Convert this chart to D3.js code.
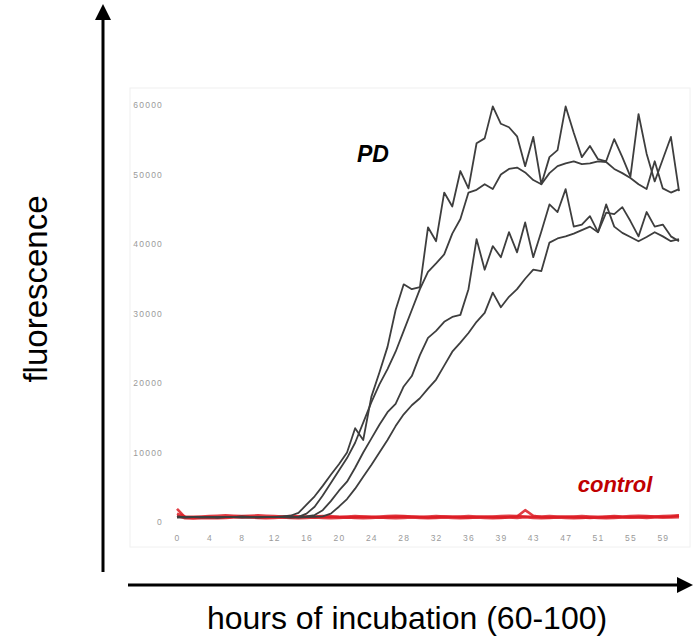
<!DOCTYPE html>
<html><head><meta charset="utf-8">
<script src="https://cdn.jsdelivr.net/npm/d3@7"></script>
<style>html,body{margin:0;padding:0;background:#fff;}svg{display:block;}</style>
</head><body>
<svg id="chart" width="694" height="638"></svg>
<script>
// ---- data ----
const xTickLabels = ["0","4","8","12","16","20","24","28","32","36","39","43","47","51","55","59"];
const yTickValues = [0,10000,20000,30000,40000,50000,60000];
const pd1 = [800,700,750,700,650,750,700,700,800,750,700,750,700,800,900,
  1300,2500,3700,5200,6800,8300,10000,13500,11800,18000,21500,25200,30500,34200,33500,33800,42400,40400,47400,45400,50500,48000,54500,55200,59800,57300,56800,55500,51200,55400,48600,52500,53500,59800,56000,52500,54100,52200,51900,55100,52500,49700,58700,53000,49000,52200,55400,47600];
const pd2 = [700,650,700,750,700,650,700,750,700,650,700,700,750,700,650,750,
  1200,2200,3800,5600,7400,9200,11400,14300,17200,19800,22000,24500,27500,30500,33500,36000,37200,38500,41500,43600,47400,47800,48600,47900,50000,50800,51000,50300,49200,48600,50200,51200,51600,51900,51500,51600,51900,51800,50800,50200,49500,48600,47900,51900,48000,47400,47900];
const pd3 = [700,750,700,650,700,750,700,700,650,700,750,700,700,750,700,700,800,
  1000,1700,3000,4500,5800,7800,10000,12000,14000,15800,17000,19500,21000,24000,26500,27500,28800,29500,29800,33500,40700,36300,39700,38100,41700,38800,43100,38100,41800,45700,44600,47900,42500,42800,44000,41700,44500,44300,45300,43300,41100,44600,42500,42800,41100,40400];
const pd4 = [650,700,700,750,700,650,700,750,700,700,650,700,750,700,700,650,700,750,800,
  1200,2200,3300,4800,6500,8200,10000,11800,13800,15500,16800,17800,19200,20500,22500,24500,25800,27200,28800,30100,33000,30900,32400,33500,35000,36300,36100,40200,40800,41100,41500,42000,42500,41700,45700,42500,41600,41000,40400,41000,41700,41100,40400,40700];
const ctrl1 = [1900,650,600,650,700,650,700,750,800,750,700,650,700,750,700,800,750,700,750,800,700,650,700,750,700,650,700,750,800,750,700,650,700,800,750,700,650,700,750,700,650,700,800,1700,900,700,650,700,750,700,650,600,650,700,750,700,650,700,750,800,700,750,900];
const ctrl2 = [900,550,500,550,600,550,600,650,700,650,600,550,600,650,600,550,600,650,600,550,600,650,600,550,600,650,600,550,600,650,600,550,600,650,600,550,600,650,600,550,600,650,600,700,600,550,600,650,600,550,600,650,600,550,600,650,700,650,600,650,700,650,700];
const ctrl3 = [1200,800,750,800,850,900,950,900,850,900,950,900,850,800,850,800,750,800,850,800,750,800,850,800,750,800,850,900,850,800,750,800,850,800,750,800,850,800,750,800,850,900,850,800,750,800,850,800,750,800,850,800,750,800,850,800,850,900,850,800,850,900,950];
const pdSeries = [pd1, pd2, pd3, pd4];
const ctrlSeries = [ctrl1, ctrl2, ctrl3];

// ---- chart ----
const svg = d3.select("#chart");
const idx = d3.range(pd1.length);
const x = d3.scalePoint().domain(idx).range([177, 679]);
const y = d3.scaleLinear().domain([0, 60000]).range([522, 105]);

// plot area frame
svg.append("rect").attr("x",130).attr("y",88).attr("width",560).attr("height",459)
  .attr("fill","#fff").attr("stroke","#f0f0f0").attr("stroke-width",1);

// y axis labels
const yAxis = svg.append("g").attr("transform","translate(163,0)")
  .call(d3.axisLeft(y).tickValues(yTickValues).tickSize(0).tickPadding(0).tickFormat(d3.format("d")));
yAxis.select(".domain").remove();
yAxis.selectAll("text").attr("font-family","Liberation Sans, Arial, sans-serif").attr("font-size",8.5)
  .attr("letter-spacing",1.2).attr("fill","#9a9a9a");

// x axis labels
const xAxis = svg.append("g").attr("transform","translate(0,535)")
  .call(d3.axisBottom(x).tickValues(xTickLabels.map((d,i)=>i*4)).tickSize(0).tickPadding(0)
    .tickFormat((d,i)=>xTickLabels[i]));
xAxis.select(".domain").remove();
xAxis.selectAll("text").attr("font-family","Liberation Sans, Arial, sans-serif").attr("font-size",8.5)
  .attr("letter-spacing",1.2).attr("fill","#9a9a9a");

const line = d3.line().x((d,i)=>x(i)).y(d=>y(d));

// control lines
svg.append("g").selectAll("path").data(ctrlSeries).join("path")
  .attr("d", line).attr("fill","none").attr("stroke","#dc1c24")
  .attr("stroke-width",2.6).attr("stroke-opacity",0.85).attr("stroke-linejoin","round");

// PD lines
svg.append("g").selectAll("path").data(pdSeries).join("path")
  .attr("d", line).attr("fill","none").attr("stroke","#3e3e3e")
  .attr("stroke-width",1.8).attr("stroke-linejoin","round");

// labels
svg.append("text").attr("x",373).attr("y",162).attr("text-anchor","middle")
  .attr("font-family","Liberation Sans, Arial, sans-serif").attr("font-weight","bold").attr("font-style","italic")
  .attr("font-size",23).attr("fill","#000").text("PD");
svg.append("text").attr("x",615).attr("y",492).attr("text-anchor","middle")
  .attr("font-family","Liberation Sans, Arial, sans-serif").attr("font-weight","bold").attr("font-style","italic")
  .attr("font-size",22).attr("fill","#c00000").text("control");

// arrows
const ar = svg.append("g").attr("fill","#000").attr("stroke","#000");
ar.append("line").attr("x1",103).attr("y1",572).attr("x2",103).attr("y2",18).attr("stroke-width",3);
ar.append("path").attr("d","M103,4 L95,20 L111,20 Z").attr("stroke","none");
ar.append("line").attr("x1",128).attr("y1",585).attr("x2",678).attr("y2",585).attr("stroke-width",3);
ar.append("path").attr("d","M693,585 L677,577 L677,593 Z").attr("stroke","none");

// axis titles
svg.append("text").attr("transform","translate(47,289) rotate(-90)").attr("text-anchor","middle")
  .attr("font-family","Liberation Sans, Arial, sans-serif").attr("font-size",33).attr("fill","#000").text("fluorescence");
svg.append("text").attr("x",407).attr("y",629).attr("text-anchor","middle")
  .attr("font-family","Liberation Sans, Arial, sans-serif").attr("font-size",32).attr("fill","#000").text("hours of incubation (60-100)");
</script>
</body></html>
